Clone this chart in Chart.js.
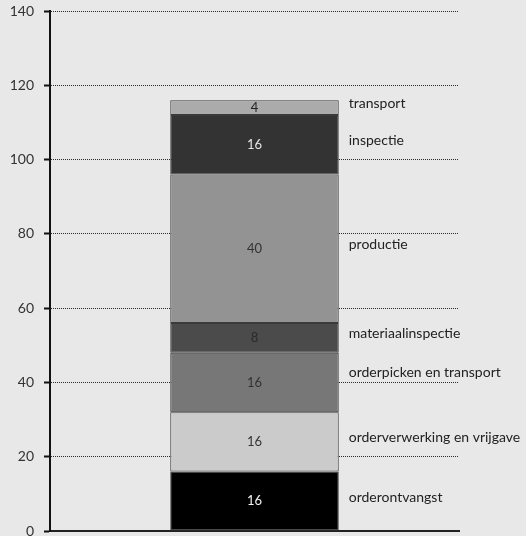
<!DOCTYPE html>
<html>
<head>
<meta charset="utf-8">
<script src="https://cdn.jsdelivr.net/npm/chart.js@4/dist/chart.umd.min.js"></script>
<style>
  html, body { margin: 0; padding: 0; background: #e8e8e8; }
  canvas { display: block; }
</style>
</head>
<body>
<canvas id="c" width="526" height="536"></canvas>
<script>
// Doorlooptijd per processtap (gestapeld, van onder naar boven)
const categories = [''];
const stages = [
  'orderontvangst',
  'orderverwerking en vrijgave',
  'orderpicken en transport',
  'materiaalinspectie',
  'productie',
  'inspectie',
  'transport'
];
const durations = [16, 16, 16, 8, 40, 16, 4];
const yMin = 0;
const yMax = 140;
const yStep = 20;

const fills = ['#000000', '#cbcbcb', '#777777', '#4b4b4b', '#939393', '#333333', '#ababab'];
const valueColors = ['#f2f2f2', '#333333', '#333333', '#2a2a2a', '#333333', '#e6e6e6', '#222222'];
const FONT = 'Lato, "Open Sans", sans-serif';

const segmentLabels = {
  id: 'segmentLabels',
  afterDatasetsDraw(chart) {
    const ctx = chart.ctx;
    ctx.save();
    chart.data.datasets.forEach((ds, i) => {
      const bar = chart.getDatasetMeta(i).data[0];
      if (!bar) return;
      const mid = (bar.y + bar.base) / 2;
      // waarde in het segment
      ctx.font = '13px ' + FONT;
      ctx.fillStyle = valueColors[i];
      ctx.textAlign = 'center';
      ctx.textBaseline = 'middle';
      ctx.fillText(String(ds.data[0]), bar.x, mid);
      // naam van de stap rechts van de staaf
      const nudge = i === 2 ? -10 : -4;
      ctx.font = '14px ' + FONT;
      ctx.fillStyle = '#222222';
      ctx.textAlign = 'left';
      ctx.fillText(ds.label, bar.x + bar.width / 2 + 10, mid + nudge);
    });
    ctx.restore();
  }
};

const background = {
  id: 'background',
  beforeDraw(chart) {
    const ctx = chart.ctx;
    ctx.save();
    ctx.fillStyle = '#e8e8e8';
    ctx.fillRect(0, 0, chart.width, chart.height);
    ctx.restore();
  }
};

new Chart(document.getElementById('c'), {
  type: 'bar',
  data: {
    labels: categories,
    datasets: stages.map((name, i) => ({
      label: name,
      data: [durations[i]],
      backgroundColor: fills[i],
      borderColor: '#3a3a3a',
      borderWidth: 1,
      borderSkipped: false,
      categoryPercentage: 1,
      barPercentage: 0.412
    }))
  },
  options: {
    responsive: false,
    animation: false,
    layout: { padding: { top: 11, bottom: 5, left: 0, right: 67 } },
    plugins: {
      legend: { display: false },
      tooltip: { enabled: false }
    },
    scales: {
      x: {
        stacked: true,
        grid: { display: false, drawTicks: false },
        ticks: { display: false },
        border: { display: true, color: '#222222', width: 2 },
        afterFit(scale) { scale.height = 0; scale.paddingLeft = 0; scale.paddingRight = 0; }
      },
      y: {
        stacked: true,
        min: yMin,
        max: yMax,
        ticks: {
          stepSize: yStep,
          padding: 10,
          color: '#333333',
          font: { family: FONT, size: 14 }
        },
        grid: {
          color: '#2a2a2a',
          lineWidth: 1,
          tickLength: 6,
          tickWidth: 2,
          tickColor: '#111111',
          tickBorderDash: []
        },
        border: { display: true, color: '#111111', width: 2, dash: [1, 1] },
        afterFit(scale) { scale.width = 50; scale.paddingTop = 0; scale.paddingBottom = 0; }
      }
    }
  },
  plugins: [background, segmentLabels]
});
</script>
</body>
</html>
